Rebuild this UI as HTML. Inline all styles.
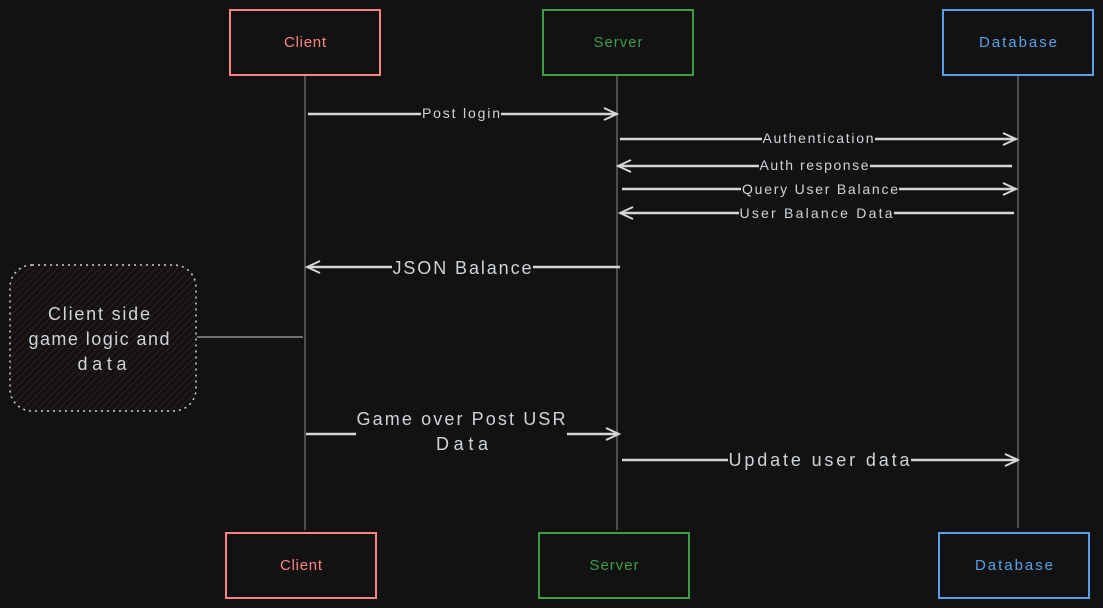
<!DOCTYPE html>
<html><head><meta charset="utf-8"><style>
html,body{margin:0;padding:0;background:#121212;}
svg{display:block}
text{font-family:"Liberation Sans",sans-serif;fill:#ced4da;}
</style></head><body>
<svg width="1103" height="608" viewBox="0 0 1103 608" xmlns="http://www.w3.org/2000/svg">
<defs>
<pattern id="h" width="5" height="5" patternUnits="userSpaceOnUse" patternTransform="rotate(45)">
<line x1="0" y1="0" x2="0" y2="5" stroke="#4a2525" stroke-width="1.2"/></pattern>
<marker id="a" markerWidth="16" markerHeight="14" refX="14" refY="7" orient="auto" markerUnits="userSpaceOnUse">
<path d="M1,1 L14,7 L1,13" fill="none" stroke="#d6d6d6" stroke-width="2"/></marker>
</defs>
<rect width="1103" height="608" fill="#121212"/>
<g stroke="#8a8a8a" stroke-width="1">
<line x1="305" y1="75" x2="305" y2="530"/>
<line x1="617" y1="75" x2="617" y2="530"/>
<line x1="1018" y1="75" x2="1018" y2="528"/>
</g>
<g fill="none" stroke-width="2">
<rect x="230" y="10" width="150" height="65" stroke="#ff8383"/>
<rect x="543" y="10" width="150" height="65" stroke="#3a9d48"/>
<rect x="943" y="10" width="150" height="65" stroke="#56a2e8"/>
<rect x="226" y="533" width="150" height="65" stroke="#ff8383"/>
<rect x="539" y="533" width="150" height="65" stroke="#3a9d48"/>
<rect x="939" y="533" width="150" height="65" stroke="#56a2e8"/>
</g>
<g font-size="15" text-anchor="middle" lengthAdjust="spacing">
<text x="305" y="47" textLength="42" style="fill:#ff8383">Client</text>
<text x="618" y="47" textLength="49" style="fill:#3a9d48">Server</text>
<text x="1018" y="47" textLength="78" style="fill:#56a2e8">Database</text>
<text x="301" y="570" textLength="42" style="fill:#ff8383">Client</text>
<text x="614" y="570" textLength="49" style="fill:#3a9d48">Server</text>
<text x="1014" y="570" textLength="78" style="fill:#56a2e8">Database</text>
</g>
<rect x="10" y="265" width="186" height="146" rx="22" fill="url(#h)" stroke="#cfcfcf" stroke-width="1.5" stroke-dasharray="2,4"/>
<line x1="197" y1="337" x2="303" y2="337" stroke="#d0d0d0" stroke-width="1"/>
<g font-size="18" text-anchor="middle">
<text x="99" y="320" textLength="102">Client side</text>
<text x="99" y="345" textLength="141">game logic and</text>
<text x="102" y="370" textLength="49">data</text>
</g>
<g stroke="#d6d6d6" stroke-width="2.5" fill="none" marker-end="url(#a)">
<line x1="308" y1="114" x2="617" y2="114"/>
<line x1="620" y1="139" x2="1016" y2="139"/>
<line x1="1012" y1="166" x2="618" y2="166"/>
<line x1="622" y1="189" x2="1016" y2="189"/>
<line x1="1014" y1="213" x2="620" y2="213"/>
<line x1="620" y1="267" x2="307" y2="267"/>
<line x1="306" y1="434" x2="619" y2="434"/>
<line x1="622" y1="460" x2="1018" y2="460"/>
</g>
<g font-size="14" text-anchor="middle">
<rect x="421" y="104" width="80" height="18" fill="#121212"/><text x="461" y="118" textLength="78">Post login</text>
<rect x="762" y="129" width="113" height="18" fill="#121212"/><text x="818" y="143" textLength="111">Authentication</text>
<rect x="759" y="156" width="111" height="18" fill="#121212"/><text x="814" y="170" textLength="109">Auth response</text>
<rect x="741" y="180" width="158" height="18" fill="#121212"/><text x="820" y="194" textLength="156">Query User Balance</text>
<rect x="739" y="204" width="155" height="18" fill="#121212"/><text x="816" y="218" textLength="153">User Balance Data</text>
</g>
<g font-size="18" text-anchor="middle">
<rect x="392" y="256" width="141" height="22" fill="#121212"/><text x="462" y="274" textLength="139">JSON Balance</text>
<rect x="356" y="405" width="211" height="50" fill="#121212"/>
<text x="461" y="425" textLength="209">Game over Post USR</text>
<text x="462" y="450" textLength="52">Data</text>
<rect x="728" y="449" width="183" height="22" fill="#121212"/><text x="819" y="466" textLength="181">Update user data</text>
</g>
</svg>
</body></html>
